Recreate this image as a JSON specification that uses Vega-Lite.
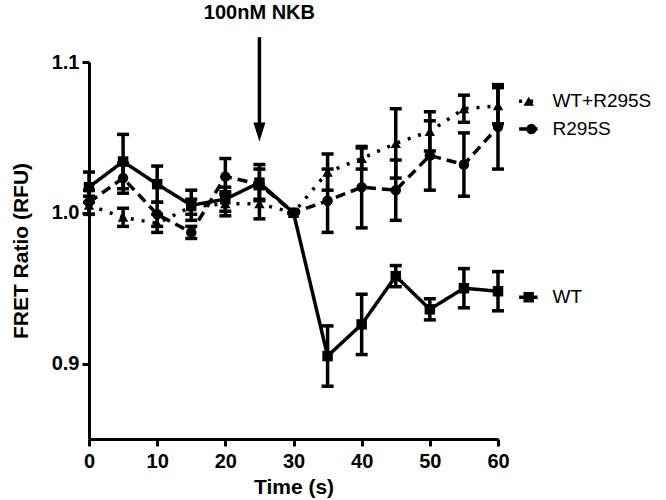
{
  "$schema": "https://vega.github.io/schema/vega-lite/v6.json",
  "width": 409,
  "height": 377,
  "autosize": "none",
  "padding": {"left": 89, "top": 62, "right": 168, "bottom": 61},
  "background": "white",
  "config": {
    "view": {"stroke": null},
    "font": "Liberation Sans",
    "axis": {
      "domainColor": "black", "domainWidth": 3, "tickColor": "black", "tickWidth": 3, "tickSize": 7,
      "labelFont": "Liberation Sans", "labelFontWeight": "bold", "labelFontSize": 20, "labelColor": "black",
      "titleFont": "Liberation Sans", "titleFontWeight": "bold", "titleFontSize": 21, "titleColor": "black",
      "grid": false, "labelFlush": false
    }
  },
  "datasets": {
    "d": [
      {"series": "WT", "t": 0, "v": 1.017, "lo": 1.007, "hi": 1.027},
      {"series": "WT", "t": 5, "v": 1.034, "lo": 1.016, "hi": 1.052},
      {"series": "WT", "t": 10, "v": 1.019, "lo": 1.007, "hi": 1.031},
      {"series": "WT", "t": 15, "v": 1.005, "lo": 0.995, "hi": 1.015},
      {"series": "WT", "t": 20, "v": 1.009, "lo": 1.001, "hi": 1.017},
      {"series": "WT", "t": 25, "v": 1.020, "lo": 1.008, "hi": 1.032},
      {"series": "WT", "t": 30, "v": 1.000, "lo": 1.000, "hi": 1.000},
      {"series": "WT", "t": 35, "v": 0.905, "lo": 0.885, "hi": 0.925},
      {"series": "WT", "t": 40, "v": 0.926, "lo": 0.906, "hi": 0.946},
      {"series": "WT", "t": 45, "v": 0.958, "lo": 0.951, "hi": 0.965},
      {"series": "WT", "t": 50, "v": 0.936, "lo": 0.929, "hi": 0.943},
      {"series": "WT", "t": 55, "v": 0.950, "lo": 0.937, "hi": 0.963},
      {"series": "WT", "t": 60, "v": 0.948, "lo": 0.935, "hi": 0.961},
      {"series": "R295S", "t": 0, "v": 1.007, "lo": 0.999, "hi": 1.015},
      {"series": "R295S", "t": 5, "v": 1.023, "lo": 1.013, "hi": 1.033},
      {"series": "R295S", "t": 10, "v": 0.999, "lo": 0.991, "hi": 1.007},
      {"series": "R295S", "t": 15, "v": 0.987, "lo": 0.983, "hi": 0.991},
      {"series": "R295S", "t": 20, "v": 1.024, "lo": 1.012, "hi": 1.036},
      {"series": "R295S", "t": 25, "v": 1.019, "lo": 1.009, "hi": 1.029},
      {"series": "R295S", "t": 30, "v": 1.000, "lo": 1.000, "hi": 1.000},
      {"series": "R295S", "t": 35, "v": 1.008, "lo": 0.987, "hi": 1.029},
      {"series": "R295S", "t": 40, "v": 1.017, "lo": 0.990, "hi": 1.044},
      {"series": "R295S", "t": 45, "v": 1.015, "lo": 0.995, "hi": 1.035},
      {"series": "R295S", "t": 50, "v": 1.038, "lo": 1.015, "hi": 1.061},
      {"series": "R295S", "t": 55, "v": 1.032, "lo": 1.011, "hi": 1.053},
      {"series": "R295S", "t": 60, "v": 1.057, "lo": 1.029, "hi": 1.085},
      {"series": "WT+R295S", "t": 0, "v": 1.005, "lo": 0.999, "hi": 1.011},
      {"series": "WT+R295S", "t": 5, "v": 0.997, "lo": 0.991, "hi": 1.003},
      {"series": "WT+R295S", "t": 10, "v": 0.993, "lo": 0.987, "hi": 0.999},
      {"series": "WT+R295S", "t": 15, "v": 1.004, "lo": 0.999, "hi": 1.009},
      {"series": "WT+R295S", "t": 20, "v": 1.006, "lo": 0.998, "hi": 1.014},
      {"series": "WT+R295S", "t": 25, "v": 1.006, "lo": 0.996, "hi": 1.016},
      {"series": "WT+R295S", "t": 30, "v": 1.000, "lo": 1.000, "hi": 1.000},
      {"series": "WT+R295S", "t": 35, "v": 1.027, "lo": 1.015, "hi": 1.039},
      {"series": "WT+R295S", "t": 40, "v": 1.036, "lo": 1.029, "hi": 1.043},
      {"series": "WT+R295S", "t": 45, "v": 1.046, "lo": 1.023, "hi": 1.069},
      {"series": "WT+R295S", "t": 50, "v": 1.054, "lo": 1.041, "hi": 1.067},
      {"series": "WT+R295S", "t": 55, "v": 1.069, "lo": 1.060, "hi": 1.078},
      {"series": "WT+R295S", "t": 60, "v": 1.071, "lo": 1.059, "hi": 1.083}
    ],
    "leg": [
      {"series": "WT+R295S", "x1": 63.1, "x2": 65.8, "xm": 64.5, "xt": 68.0, "y": 1.074},
      {"series": "R295S", "x1": 63.1, "x2": 65.8, "xm": 64.9, "xt": 68.0, "y": 1.0555},
      {"series": "WT", "x1": 63.1, "x2": 65.8, "xm": 64.5, "xt": 68.0, "y": 0.944}
    ],
    "ann": [
      {"t": 25, "ytext": 1.1325, "ytop": 1.1165, "ybot": 1.056, "yhead": 1.0535, "label": "100nM NKB"}
    ]
  },
  "layer": [
    {
      "data": {"name": "d"},
      "mark": {"type": "errorbar", "color": "black", "opacity": 1, "thickness": 3.5, "rule": {"opacity": 1, "color": "black"}, "ticks": {"size": 12, "thickness": 3.5, "color": "black", "opacity": 1}},
      "encoding": {
        "x": {"field": "t", "type": "quantitative", "scale": {"domain": [0, 60], "nice": false, "zero": false},
              "axis": {"values": [0, 10, 20, 30, 40, 50, 60], "title": "Time (s)", "labelPadding": 5, "titlePadding": 5}},
        "y": {"field": "lo", "type": "quantitative", "scale": {"domain": [0.85, 1.1], "nice": false, "zero": false},
              "axis": {"values": [0.9, 1.0, 1.1], "format": ".1f", "title": "FRET Ratio (RFU)", "labelPadding": 3, "titlePadding": 20}},
        "y2": {"field": "hi"}
      }
    },
    {
      "data": {"name": "d"},
      "mark": {"type": "line", "color": "black", "strokeWidth": 3.5},
      "encoding": {
        "x": {"field": "t", "type": "quantitative", "scale": {"domain": [0, 60], "nice": false, "zero": false}},
        "y": {"field": "v", "type": "quantitative", "scale": {"domain": [0.85, 1.1], "nice": false, "zero": false}},
        "detail": {"field": "series"},
        "strokeDash": {"field": "series", "type": "nominal", "legend": null,
                       "scale": {"domain": ["WT", "R295S", "WT+R295S"], "range": [[1, 0], [10, 6], [3, 8]]}}
      }
    },
    {
      "data": {"name": "d"},
      "mark": {"type": "point", "filled": true, "color": "black", "opacity": 1, "size": 110},
      "encoding": {
        "x": {"field": "t", "type": "quantitative", "scale": {"domain": [0, 60], "nice": false, "zero": false}},
        "y": {"field": "v", "type": "quantitative", "scale": {"domain": [0.85, 1.1], "nice": false, "zero": false}},
        "shape": {"field": "series", "type": "nominal", "legend": null,
                  "scale": {"domain": ["WT", "R295S", "WT+R295S"], "range": ["square", "circle", "triangle-up"]}}
      }
    },
    {
      "data": {"name": "leg"},
      "mark": {"type": "rule", "color": "black", "strokeWidth": 3.5},
      "encoding": {
        "x": {"field": "x1", "type": "quantitative", "scale": {"domain": [0, 60], "nice": false, "zero": false}},
        "x2": {"field": "x2"},
        "y": {"field": "y", "type": "quantitative", "scale": {"domain": [0.85, 1.1], "nice": false, "zero": false}},
        "strokeDash": {"field": "series", "type": "nominal", "legend": null,
                       "scale": {"domain": ["WT", "R295S", "WT+R295S"], "range": [[1, 0], [10, 6], [3, 8]]}}
      }
    },
    {
      "data": {"name": "leg"},
      "mark": {"type": "point", "filled": true, "color": "black", "opacity": 1, "size": 110},
      "encoding": {
        "x": {"field": "xm", "type": "quantitative", "scale": {"domain": [0, 60], "nice": false, "zero": false}},
        "y": {"field": "y", "type": "quantitative", "scale": {"domain": [0.85, 1.1], "nice": false, "zero": false}},
        "shape": {"field": "series", "type": "nominal", "legend": null,
                  "scale": {"domain": ["WT", "R295S", "WT+R295S"], "range": ["square", "circle", "triangle-up"]}}
      }
    },
    {
      "data": {"name": "leg"},
      "mark": {"type": "text", "align": "left", "baseline": "middle", "fontSize": 19, "font": "Liberation Sans", "color": "black"},
      "encoding": {
        "x": {"field": "xt", "type": "quantitative", "scale": {"domain": [0, 60], "nice": false, "zero": false}},
        "y": {"field": "y", "type": "quantitative", "scale": {"domain": [0.85, 1.1], "nice": false, "zero": false}},
        "text": {"field": "series"}
      }
    },
    {
      "data": {"name": "ann"},
      "mark": {"type": "text", "align": "center", "baseline": "middle", "fontSize": 20, "fontWeight": "bold", "font": "Liberation Sans", "color": "black"},
      "encoding": {
        "x": {"field": "t", "type": "quantitative", "scale": {"domain": [0, 60], "nice": false, "zero": false}},
        "y": {"field": "ytext", "type": "quantitative", "scale": {"domain": [0.85, 1.1], "nice": false, "zero": false}},
        "text": {"field": "label"}
      }
    },
    {
      "data": {"name": "ann"},
      "mark": {"type": "rule", "color": "black", "strokeWidth": 3.5},
      "encoding": {
        "x": {"field": "t", "type": "quantitative", "scale": {"domain": [0, 60], "nice": false, "zero": false}},
        "y": {"field": "ytop", "type": "quantitative", "scale": {"domain": [0.85, 1.1], "nice": false, "zero": false}},
        "y2": {"field": "ybot"}
      }
    },
    {
      "data": {"name": "ann"},
      "mark": {"type": "point", "filled": true, "color": "black", "opacity": 1, "size": 144, "shape": "M-1,-1.6L1,-1.6L0,1.6Z"},
      "encoding": {
        "x": {"field": "t", "type": "quantitative", "scale": {"domain": [0, 60], "nice": false, "zero": false}},
        "y": {"field": "yhead", "type": "quantitative", "scale": {"domain": [0.85, 1.1], "nice": false, "zero": false}}
      }
    }
  ]
}
